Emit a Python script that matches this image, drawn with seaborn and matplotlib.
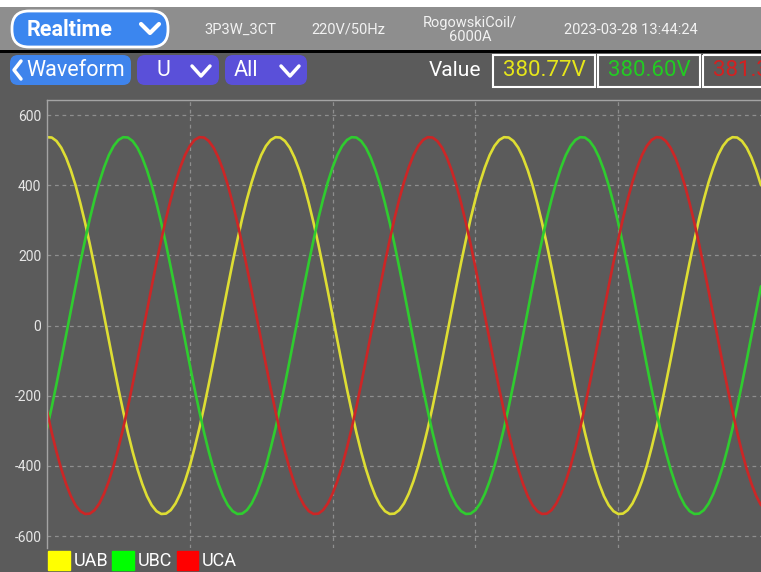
import matplotlib
matplotlib.use('Agg')
import matplotlib.pyplot as plt
import matplotlib.patches as mpatches
from matplotlib.lines import Line2D
import pandas as pd
import seaborn as sns

# Waveform samples, one every 7.5 electrical degrees
angle_deg = [i * 7.5 for i in range(151)]

uab = [537, 536, 526, 507, 479, 443, 400, 349, 293, 232, 166, 98, 28, -42, -112, -180, -244, -305, -360, -409, -451, -486, -512, -529,
       -537, -536, -526, -507, -479, -443, -400, -349, -293, -232, -166, -98, -28, 42, 112, 180, 244, 305, 360, 409, 451, 486, 512, 529,
       537, 536, 526, 507, 479, 443, 400, 349, 293, 232, 166, 98, 28, -42, -112, -180, -244, -305, -360, -409, -451, -486, -512, -529,
       -537, -536, -526, -507, -479, -443, -400, -349, -293, -232, -166, -98, -28, 42, 112, 180, 244, 305, 360, 409, 451, 486, 512, 529,
       537, 536, 526, 507, 479, 443, 400, 349, 293, 232, 166, 98, 28, -42, -112, -180, -244, -305, -360, -409, -451, -486, -512, -529,
       -537, -536, -526, -507, -479, -443, -400, -349, -293, -232, -166, -98, -28, 42, 112, 180, 244, 305, 360, 409, 451, 486, 512, 529,
       537, 536, 526, 507, 479, 443, 400]

ubc = [-293, -232, -166, -98, -28, 42, 112, 180, 244, 305, 360, 409, 451, 486, 512, 529,
       537, 536, 526, 507, 479, 443, 400, 349, 293, 232, 166, 98, 28, -42, -112, -180, -244, -305, -360, -409, -451, -486, -512, -529,
       -537, -536, -526, -507, -479, -443, -400, -349, -293, -232, -166, -98, -28, 42, 112, 180, 244, 305, 360, 409, 451, 486, 512, 529,
       537, 536, 526, 507, 479, 443, 400, 349, 293, 232, 166, 98, 28, -42, -112, -180, -244, -305, -360, -409, -451, -486, -512, -529,
       -537, -536, -526, -507, -479, -443, -400, -349, -293, -232, -166, -98, -28, 42, 112, 180, 244, 305, 360, 409, 451, 486, 512, 529,
       537, 536, 526, 507, 479, 443, 400, 349, 293, 232, 166, 98, 28, -42, -112, -180, -244, -305, -360, -409, -451, -486, -512, -529,
       -537, -536, -526, -507, -479, -443, -400, -349, -293, -232, -166, -98, -28, 42, 112]

uca = [-244, -305, -360, -409, -451, -486, -512, -529,
       -537, -536, -526, -507, -479, -443, -400, -349, -293, -232, -166, -98, -28, 42, 112, 180, 244, 305, 360, 409, 451, 486, 512, 529,
       537, 536, 526, 507, 479, 443, 400, 349, 293, 232, 166, 98, 28, -42, -112, -180, -244, -305, -360, -409, -451, -486, -512, -529,
       -537, -536, -526, -507, -479, -443, -400, -349, -293, -232, -166, -98, -28, 42, 112, 180, 244, 305, 360, 409, 451, 486, 512, 529,
       537, 536, 526, 507, 479, 443, 400, 349, 293, 232, 166, 98, 28, -42, -112, -180, -244, -305, -360, -409, -451, -486, -512, -529,
       -537, -536, -526, -507, -479, -443, -400, -349, -293, -232, -166, -98, -28, 42, 112, 180, 244, 305, 360, 409, 451, 486, 512, 529,
       537, 536, 526, 507, 479, 443, 400, 349, 293, 232, 166, 98, 28, -42, -112, -180, -244, -305, -360, -409, -451, -486, -512]

phases = ['UAB', 'UBC', 'UCA']
line_colors = ['#dede33', '#2fcc2f', '#cc2626']
legend_colors = ['#ffff00', '#00ff00', '#ff0000']
rms_labels = ['380.77V', '380.60V', '381.30V']
rms_colors = ['#e6e61a', '#22cc22', '#d42020']

y_ticks = [-600, -400, -200, 0, 200, 400, 600]
y_tick_labels = ['-600', '-400', '-200', '0', '200', '400', '600']
x_grid = [225, 450, 675, 900]

header_items = ['3P3W_3CT', '220V/50Hz', 'RogowskiCoil/\n6000A', '2023-03-28 13:44:24']

df = pd.DataFrame({
    'angle': angle_deg * 3,
    'voltage': uab + ubc + uca,
    'phase': ['UAB'] * len(uab) + ['UBC'] * len(ubc) + ['UCA'] * len(uca),
})

sns.set_style('dark')
plt.rcParams['font.family'] = ['Roboto', 'DejaVu Sans']

BG = '#5b5b5b'
fig = plt.figure(figsize=(7.61, 5.72), dpi=100, facecolor=BG)

# overlay in pixel coordinates for the device header
ov = fig.add_axes([0, 0, 1, 1], zorder=0)
ov.set_xlim(0, 761)
ov.set_ylim(572, 0)
ov.axis('off')
ov.patch.set_alpha(0)

ov.add_patch(mpatches.Rectangle((0, 0), 761, 7, fc='white', ec='none'))
ov.add_patch(mpatches.Rectangle((0, 7), 761, 43, fc='#8e8e8e', ec='none'))
ov.add_patch(mpatches.Rectangle((0, 50), 761, 3, fc='black', ec='none'))

ov.add_patch(mpatches.FancyBboxPatch((12, 11), 156, 36, boxstyle='round,pad=0,rounding_size=17',
                                     fc='#3b86ef', ec='white', lw=2))
ov.text(70, 30, 'Realtime', color='white', fontsize=15.5, fontweight='bold', ha='center', va='center')
ov.add_line(Line2D([141, 150, 159], [24, 33, 24], color='white', lw=3, solid_capstyle='round'))

for txt, xc in zip(header_items, [240, 348, 470, 631]):
    ov.text(xc, 30, txt, color='#f2f2f2', fontsize=10.5, ha='center', va='center', linespacing=1.0)

# second row: buttons and readings
ov.add_patch(mpatches.FancyBboxPatch((10, 55), 121, 30, boxstyle='round,pad=0,rounding_size=8',
                                     fc='#3f84ec', ec='none'))
ov.add_line(Line2D([21, 14, 21], [61, 70, 79], color='white', lw=2.5))
ov.text(76, 70, 'Waveform', color='white', fontsize=15.5, ha='center', va='center')

for x0, lbl, tx, cx in [(137, 'U', 163, 201), (225, 'All', 246, 290)]:
    ov.add_patch(mpatches.FancyBboxPatch((x0, 55), 82, 30, boxstyle='round,pad=0,rounding_size=8',
                                         fc='#5a50d9', ec='none'))
    ov.text(tx, 70, lbl, color='white', fontsize=15.5, ha='center', va='center')
    ov.add_line(Line2D([cx - 9, cx, cx + 9], [66, 76, 66], color='white', lw=2.5))

ov.text(455, 71, 'Value', color='white', fontsize=15, ha='center', va='center')
for i, (lbl, col) in enumerate(zip(rms_labels, rms_colors)):
    x0 = 493 + i * 105
    ov.add_patch(mpatches.Rectangle((x0, 55), 102, 32, fc='none', ec='white', lw=1.5))
    ov.text(x0 + 51, 71, lbl, color=col, fontsize=16, ha='center', va='center')

# waveform chart
ax = fig.add_axes([47 / 761, 1 - 548 / 572, 714 / 761, 448 / 572], zorder=1)
ax.set_facecolor(BG)
sns.lineplot(data=df, x='angle', y='voltage', hue='phase', palette=line_colors,
             linewidth=1.9, legend=False, estimator=None, sort=False, ax=ax)

ax.set_xlim(0, 1125)
ax.set_ylim(-634, 643)
ax.set_xticks(x_grid)
ax.set_xticklabels([])
ax.set_yticks(y_ticks)
ax.set_yticklabels(y_tick_labels)
ax.tick_params(length=0, labelsize=10, labelcolor='#e6e6e6', pad=4)
ax.set_xlabel('')
ax.set_ylabel('')
ax.grid(True, color='#8e8e8e', linestyle=(0, (3, 3)), linewidth=0.9)
for side in ['bottom', 'right']:
    ax.spines[side].set_visible(False)
for side in ['left', 'top']:
    ax.spines[side].set_visible(True)
    ax.spines[side].set_color('#a4a4a4')
    ax.spines[side].set_linewidth(1)

handles = [mpatches.Patch(facecolor=c, edgecolor=c) for c in legend_colors]
fig.legend(handles, phases, loc='upper left', bbox_to_anchor=(48 / 761, 1 - 551 / 572),
           ncol=3, frameon=False, fontsize=13, labelcolor='white', handlelength=1.2,
           handleheight=1.2, handletextpad=0.2, columnspacing=0.25, borderaxespad=0, borderpad=0)

fig.savefig('out.png', dpi=100, facecolor=BG)
